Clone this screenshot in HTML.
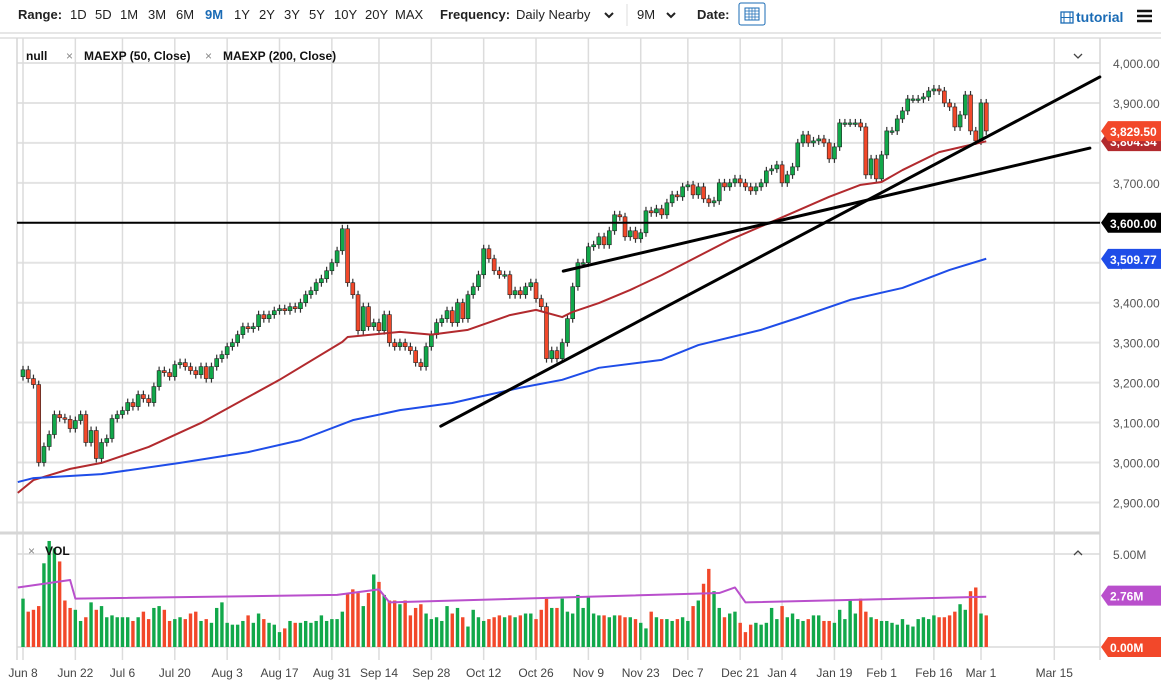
<!DOCTYPE html>
<html><head><meta charset="utf-8"><style>
body{margin:0;background:#fff;font-family:"Liberation Sans",sans-serif;}
svg{display:block}
text{font-family:"Liberation Sans",sans-serif}
</style></head><body>
<svg id="c" width="1161" height="686" xmlns="http://www.w3.org/2000/svg">
<g id="hdr" font-size="13" fill="#222">
<text x="18" y="19" font-weight="bold">Range:</text>
<text x="70" y="19">1D</text>
<text x="95" y="19">5D</text>
<text x="120" y="19">1M</text>
<text x="148" y="19">3M</text>
<text x="176" y="19">6M</text>
<text x="205" y="19" font-weight="bold" fill="#1a6bb5">9M</text>
<text x="234" y="19">1Y</text>
<text x="259" y="19">2Y</text>
<text x="284" y="19">3Y</text>
<text x="309" y="19">5Y</text>
<text x="334" y="19">10Y</text>
<text x="365" y="19">20Y</text>
<text x="395" y="19">MAX</text>
<text x="440" y="19" font-weight="bold">Frequency:</text>
<text x="516" y="19">Daily Nearby</text>
<path d="M605 13l4 4 4-4" stroke="#222" stroke-width="2" fill="none"/>
<line x1="627" y1="4" x2="627" y2="26" stroke="#ddd"/>
<text x="637" y="19">9M</text>
<path d="M667 13l4 4 4-4" stroke="#222" stroke-width="2" fill="none"/>
<text x="697" y="19" font-weight="bold">Date:</text>
<g><rect x="739" y="3" width="26" height="22" fill="#fff" stroke="#1a6bb5" rx="2"/><rect x="745" y="8" width="14" height="12" fill="none" stroke="#1a6bb5"/><path d="M745 11h14M749 8v12M752 8v12M755 8v12M745 14h14M745 17h14" stroke="#1a6bb5" stroke-width=".7"/></g>
<g><rect x="1061" y="12" width="12" height="11" fill="none" stroke="#1a6bb5" stroke-width="1.3"/><path d="M1064 12v11M1070 12v11M1061 17.5h12" stroke="#1a6bb5"/><text x="1076" y="22" font-weight="bold" fill="#1a6bb5" font-size="14">tutorial</text></g>
<path d="M1137 11h15M1137 16h15M1137 21h15" stroke="#111" stroke-width="2.5"/>
</g>
<line x1="0" y1="33" x2="1161" y2="33" stroke="#ccc"/>
<line x1="0" y1="38" x2="1161" y2="38" stroke="#ddd" stroke-width="1.5"/>
<g id="grid"></g>
<g id="vol"></g>
<g id="price"></g>
<g id="overlay"></g>
<g id="axes"></g>
<g font-size="12" font-weight="bold" fill="#111">
<text x="26" y="60">null</text>
<text x="66" y="60" fill="#888" font-weight="normal">×</text>
<text x="84" y="60">MAEXP (50, Close)</text>
<text x="205" y="60" fill="#888" font-weight="normal">×</text>
<text x="223" y="60">MAEXP (200, Close)</text>
<text x="28" y="555" fill="#888" font-weight="normal">×</text>
<text x="45" y="555">VOL</text>
</g>
<path d="M1074 54l4 4 4-4" stroke="#444" stroke-width="1.3" fill="none"/>
<path d="M1074 555l4-4 4 4" stroke="#444" stroke-width="1.3" fill="none"/>
</svg>
<script>
const closes=[
3232,3210,3195,3000,3040,3070,3120,3112,3108,3085,3105,3120,3050,3080,3010,3050,3060,
3110,3120,3130,3150,3140,3170,3160,3150,3190,3230,3225,3215,3245,3250,3240,3230,3220,3240,3210,3240,3260,3270,
3290,3300,3320,3340,3335,3340,3370,3360,3370,3380,3385,3380,3390,3385,3400,3420,3430,3450,3460,3480,3500,
3530,3585,3450,3420,3330,3390,3340,3350,3330,3370,3300,3290,3300,3290,3280,3250,3240,3290,3320,3350,3360,
3380,3350,3400,3360,3420,3440,3470,3535,3510,3480,3470,3470,3420,3430,3420,3440,3450,3410,3390,3260,3280,3260,
3300,3360,3440,3500,3500,3540,3545,3565,3545,3580,3620,3615,3565,3580,3560,3575,3630,3625,3635,3620,
3650,3670,3665,3690,3695,3670,3690,3660,3650,3655,3700,3690,3700,3710,3700,3690,3680,3690,3700,3730,3735,3745,
3700,3720,3740,3800,3820,3800,3805,3810,3800,3760,3790,3850,3850,3850,3850,3840,3720,3760,3710,
3770,3830,3830,3860,3880,3910,3910,3910,3915,3930,3935,3930,3900,3890,3840,3870,3920,3830,3805,
3900,3830];
const volumes=[
2.6,1.9,2.0,2.2,4.5,5.7,5.3,4.6,2.5,2.1,2.0,1.4,1.6,2.4,2.0,2.2,1.6,
1.7,1.6,1.6,1.6,1.4,1.6,1.9,1.5,2.1,2.2,2.0,1.4,1.5,1.6,1.5,1.8,1.9,1.4,1.5,1.3,2.1,2.4,
1.3,1.2,1.2,1.4,1.7,1.3,1.8,1.5,1.3,1.2,0.8,1.0,1.4,1.3,1.3,1.4,1.3,1.4,1.7,1.4,1.5,
1.5,1.9,2.9,3.1,2.9,2.2,2.9,3.9,3.5,2.8,2.5,2.5,2.3,2.5,1.7,2.1,2.3,1.8,1.5,1.6,1.4,
2.2,1.8,2.1,1.6,1.1,2.0,1.6,1.4,1.5,1.6,1.7,1.6,1.7,1.6,1.7,1.8,1.8,1.5,2.0,2.6,2.1,2.1,
2.6,1.9,1.8,2.8,2.1,2.7,1.8,1.7,1.7,1.6,1.7,1.7,1.6,1.6,1.5,1.3,1.0,1.9,1.6,1.5,
1.5,1.4,1.5,1.6,1.4,2.2,2.5,3.4,4.2,3.0,2.1,1.6,1.8,1.9,1.3,0.8,1.2,1.3,1.2,1.3,2.1,1.5,
2.2,1.6,1.8,1.5,1.4,1.5,1.7,1.7,1.4,1.4,1.3,2.0,1.5,2.5,1.8,2.6,1.9,1.6,1.5,
1.4,1.4,1.3,1.2,1.5,1.2,1.1,1.5,1.6,1.5,1.7,1.6,1.6,1.7,1.9,2.3,2.0,3.0,3.2,
1.8,1.7];
const ema50Idx=[-1,2,9,15,24,34,49,61,62,72,78,85,93,98,103,105,110,116,122,135,147,154,160,164,168,175,181,184];
const ema50Val=[2924,2956,2984,2999,3039,3099,3207,3302,3314,3327,3320,3332,3369,3382,3364,3377,3399,3432,3469,3557,3625,3665,3695,3702,3732,3777,3795,3804];
const ema200Idx=[-1,2,15,30,43,53,63,72,82,87,95,103,110,122,129,141,148,158,168,177,184];
const ema200Val=[2951,2961,2971,2999,3026,3056,3106,3131,3149,3164,3187,3207,3237,3257,3294,3332,3362,3407,3437,3482,3510];
const volMaIdx=[-1,9,10,60,68,70,133,136,138,184];
const volMaVal=[3.2,3.6,2.6,2.8,3.1,2.4,2.9,3.2,2.4,2.7];
const priceTicks=[4000,3900,3800,3700,3600,3500,3400,3300,3200,3100,3000,2900];
const dateTickIdx=[0,10,19,29,39,49,59,68,78,88,98,108,118,127,137,145,155,164,174,183,197];
const dateTickLabels=["Jun 8","Jun 22","Jul 6","Jul 20","Aug 3","Aug 17","Aug 31","Sep 14","Sep 28","Oct 12","Oct 26","Nov 9","Nov 23","Dec 7","Dec 21","Jan 4","Jan 19","Feb 1","Feb 16","Mar 1","Mar 15"];
const trendA=[79.8,3091,205.7,3965];
const trendB=[103.2,3479,203.8,3787];
const hLevel=3600;
const lastLabels=[3829.50,3804.34,3509.77];
const volLabels=[5,2.76,0];

const NS="http://www.w3.org/2000/svg";
const X=i=>23+i*5.235;
const Y=p=>63+(4000-p)*0.3995;
const VY=v=>647-v*18.6;
const L=1100;
function mk(par,tag,at){const e=document.createElementNS(NS,tag);for(const k in at)e.setAttribute(k,at[k]);document.getElementById(par).appendChild(e);return e;}
const fmt=v=>v.toLocaleString('en-US',{minimumFractionDigits:2,maximumFractionDigits:2});

// grid
priceTicks.forEach(p=>{const e=mk('grid','line',{x1:17,x2:L,y1:Y(p),y2:Y(p),stroke:'#e3e3e3','stroke-width':2});

});
[VY(5),VY(0)].forEach(y=>{const e=mk('grid','line',{x1:17,x2:L,y1:y,y2:y,stroke:'#e3e3e3','stroke-width':2});

});
dateTickIdx.forEach((d,k)=>{const x=X(d);const e=mk('grid','line',{x1:x,x2:x,y1:38,y2:660,stroke:'#dcdcdc','stroke-width':1.5});


const t=mk('axes','text',{x:x,y:677,'text-anchor':'middle','font-size':12,fill:'#444'});t.textContent=dateTickLabels[k];

});
[[17,38,17,660],[L,38,L,660],[0,533,L,533]].forEach(a=>{const e=mk('grid','line',{x1:a[0],y1:a[1],x2:a[2],y2:a[3],stroke:'#d6d6d6','stroke-width':a[1]==533?3:1.5});

});

// price axis labels
priceTicks.forEach(p=>{const t=mk('axes','text',{x:1113,y:Y(p)+5,'font-size':12,fill:'#555'});t.textContent=fmt(p);

});

// volume bars
volumes.forEach((v,i)=>{const up=i==0?true:closes[i]>=closes[i-1];
const r=mk('vol','rect',{x:X(i)-1.7,y:VY(v),width:3.4,height:VY(0)-VY(v),fill:up?'#11a84a':'#f2482a'});

});
function poly(par,idx,val,fy,col,w,name){const pts=idx.map((d,k)=>X(Math.min(d,closes.length-1))+','+fy(val[k])).join(' ');
const e=mk(par,'polyline',{points:pts,fill:'none',stroke:col,'stroke-width':w,'stroke-linejoin':'round'});

}
poly('vol',volMaIdx,volMaVal,VY,'#b94fcc',2,'volume-ma-line');

// candles
closes.forEach((c,i)=>{const o=i==0?3215:closes[i-1];const up=c>=o;const x=X(i);
const hi=Math.max(o,c)+10,lo=Math.min(o,c)-10;
const g=mk('price','g',{});


const w=document.createElementNS(NS,'line');w.setAttribute('x1',x);w.setAttribute('x2',x);w.setAttribute('y1',Y(hi));w.setAttribute('y2',Y(lo));w.setAttribute('stroke','#333');w.setAttribute('stroke-width',1.2);g.appendChild(w);
const b=document.createElementNS(NS,'rect');const top=Y(Math.max(o,c));b.setAttribute('x',x-2);b.setAttribute('y',top);b.setAttribute('width',4);b.setAttribute('height',Math.max(1.5,Y(Math.min(o,c))-top));b.setAttribute('fill',up?'#11a84a':'#f2482a');b.setAttribute('stroke','#222');b.setAttribute('stroke-width',.6);g.appendChild(b);});

poly('overlay',ema50Idx,ema50Val,Y,'#b22a2e',2,'ema-50-line');
poly('overlay',ema200Idx,ema200Val,Y,'#1f4de8',2,'ema-200-line');
[trendA,trendB].forEach((t,k)=>{const e=mk('overlay','line',{x1:X(t[0]),y1:Y(t[1]),x2:X(t[2]),y2:Y(t[3]),stroke:'#000','stroke-width':3,'stroke-linecap':'round'});

});
const hl=mk('overlay','line',{x1:17,x2:L,y1:Y(hLevel),y2:Y(hLevel),stroke:'#000','stroke-width':2});



function tag(y,txt,col,name){const g=mk('axes','g',{});


const p=document.createElementNS(NS,'path');p.setAttribute('d',`M1101 ${y} L1108 ${y-10} H1161 V${y+10} H1108 Z`);p.setAttribute('fill',col);g.appendChild(p);
const t=document.createElementNS(NS,'text');t.setAttribute('x',1110);t.setAttribute('y',y+5);t.setAttribute('font-size',12);t.setAttribute('font-weight','bold');t.setAttribute('fill','#fff');t.textContent=txt;g.appendChild(t);}
tag(Y(lastLabels[1]),fmt(lastLabels[1]),'#b22a2e','ema-50-value-tag');
tag(Y(lastLabels[0]),fmt(lastLabels[0]),'#f2482a','last-price-tag');
tag(Y(hLevel),fmt(hLevel),'#000','level-3600-tag');
tag(Y(lastLabels[2]),fmt(lastLabels[2]),'#1f4de8','ema-200-value-tag');
const vt=mk('axes','text',{x:1113,y:VY(volLabels[0])+5,'font-size':12,fill:'#555'});vt.textContent=volLabels[0].toFixed(2)+'M';


tag(VY(volLabels[1]),volLabels[1].toFixed(2)+'M','#b94fcc','volume-ma-tag');
tag(VY(volLabels[2]),volLabels[2].toFixed(2)+'M','#f2482a','volume-last-tag');
</script>
</body></html>
